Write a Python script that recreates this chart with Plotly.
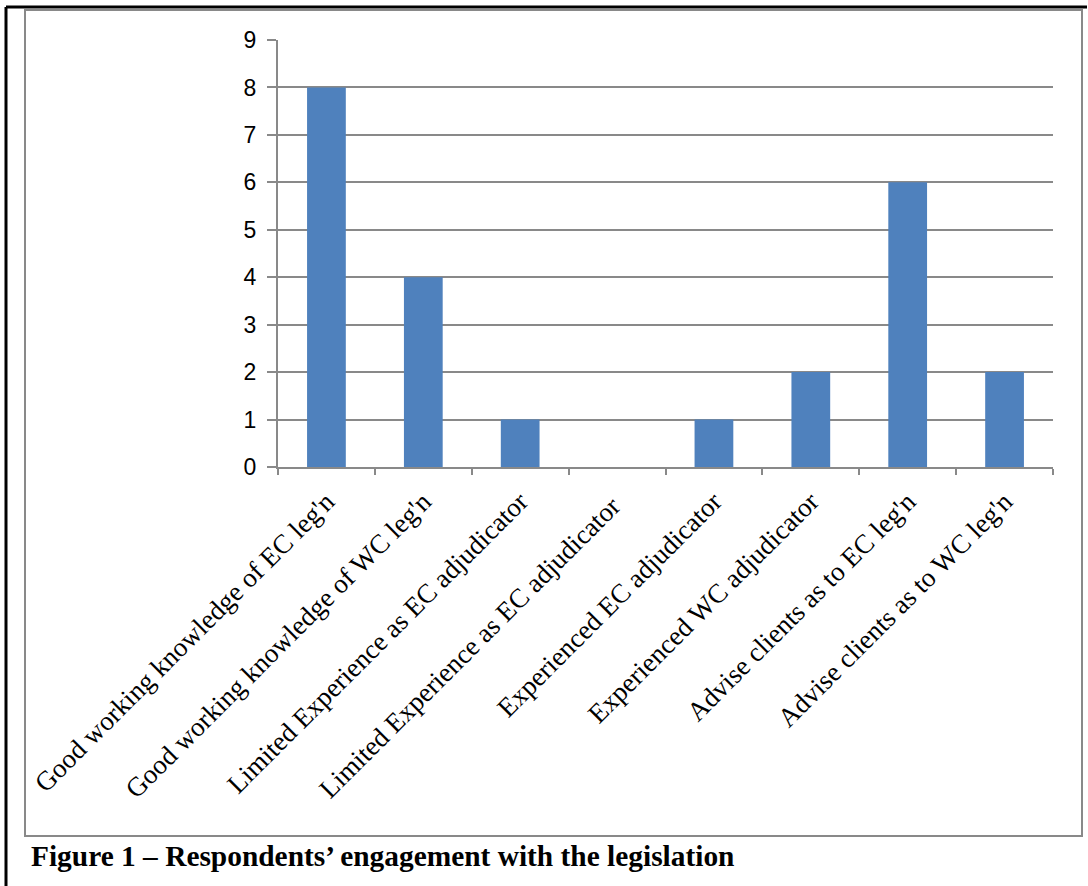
import plotly.graph_objects as go

# Survey categories and respondent counts
categories = [
    "Good working knowledge of EC leg'n",
    "Good working knowledge of WC leg'n",
    "Limited Experience as EC adjudicator",
    "Limited Experience as EC adjudicator ",
    "Experienced EC adjudicator",
    "Experienced WC adjudicator",
    "Advise clients as to EC leg'n",
    "Advise clients as to WC leg'n",
]
counts = [8, 4, 1, 0, 1, 2, 6, 2]
y_ticks = list(range(0, 10))

caption = "Figure 1 – Respondents’ engagement with the legislation"

W, H = 1088, 886
ML, MR, MT, MB = 278, 35, 40, 419
PW = W - ML - MR
PH = H - MT - MB


def px(x):
    return (x - ML) / PW


def py(y):
    return (H - MB - y) / PH


GRAY = "#898989"

fig = go.Figure(
    go.Bar(
        x=categories,
        y=counts,
        marker=dict(color="#4F81BD", line=dict(width=0)),
        showlegend=False,
    )
)

fig.update_layout(
    width=W,
    height=H,
    autosize=False,
    margin=dict(l=ML, r=MR, t=MT, b=MB, pad=0),
    paper_bgcolor="white",
    plot_bgcolor="white",
    bargap=0.6,
    xaxis=dict(
        type="category",
        tickson="boundaries",
        ticks="outside",
        ticklen=6,
        tickwidth=2,
        tickcolor=GRAY,
        showline=True,
        linecolor=GRAY,
        linewidth=2,
        showgrid=False,
        tickangle=-45,
        ticklabelstandoff=6,
        tickfont=dict(family="Liberation Serif", size=27, color="black"),
    ),
    yaxis=dict(
        range=[0, 9],
        tickvals=y_ticks,
        ticks="outside",
        ticklen=9,
        tickwidth=2,
        tickcolor=GRAY,
        showline=True,
        linecolor=GRAY,
        linewidth=2,
        showgrid=True,
        gridcolor=GRAY,
        gridwidth=2,
        zeroline=False,
        ticklabelstandoff=6,
        tickfont=dict(family="Liberation Sans", size=23, color="black"),
    ),
    shapes=[
        # outer frame (black)
        dict(type="line", xref="paper", yref="paper",
             x0=px(6), x1=px(1087), y0=py(7), y1=py(7),
             line=dict(color="black", width=3)),
        dict(type="line", xref="paper", yref="paper",
             x0=px(6), x1=px(6), y0=py(7), y1=py(890),
             line=dict(color="black", width=3)),
        # chart area border (gray)
        dict(type="rect", xref="paper", yref="paper",
             x0=px(25), x1=px(1082), y0=py(836), y1=py(10),
             line=dict(color=GRAY, width=2), fillcolor="rgba(0,0,0,0)",
             layer="below"),
    ],
    annotations=[
        dict(text="<b>" + caption + "</b>", xref="paper", yref="paper",
             x=px(29), y=py(856), xanchor="left", yanchor="middle",
             showarrow=False,
             font=dict(family="Liberation Serif", size=29.4, color="black")),
    ],
)

fig.write_html("out.html")
